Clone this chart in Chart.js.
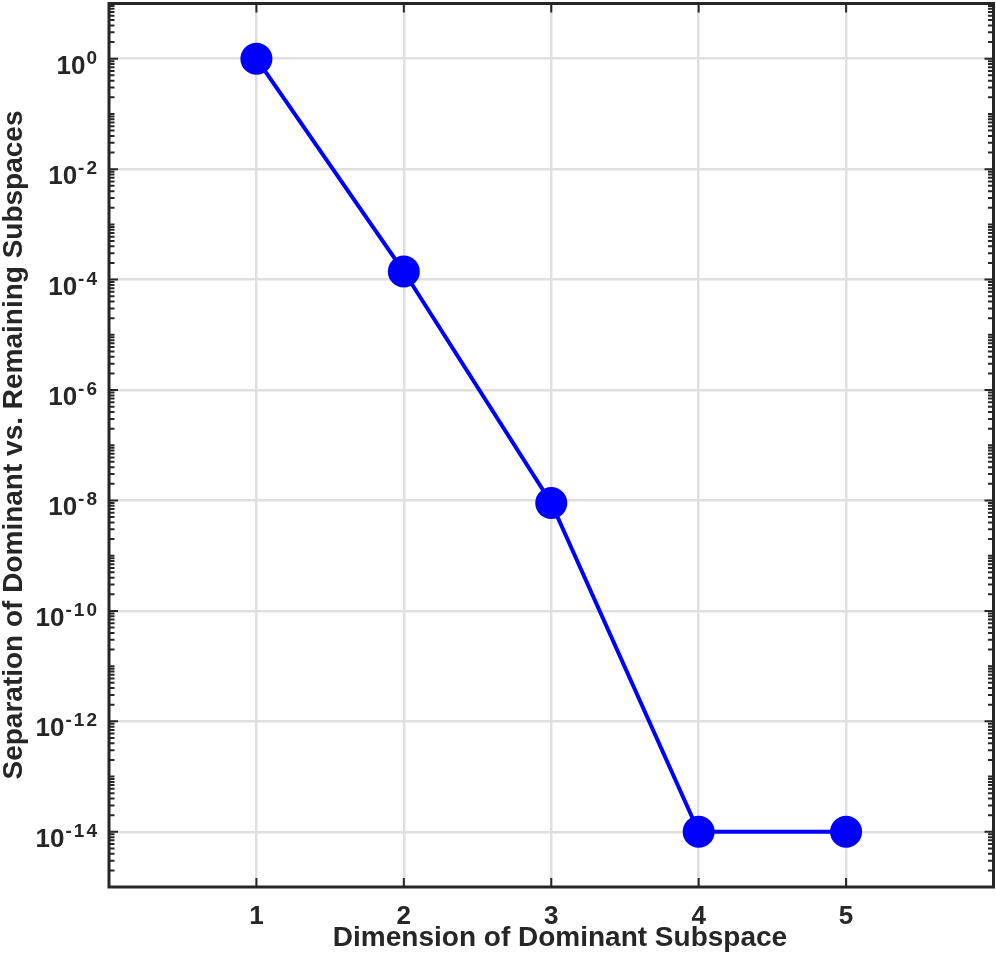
<!DOCTYPE html>
<html lang="en">
<head>
    <meta charset="UTF-8">
    <title>Separation of Dominant vs. Remaining Subspaces</title>
    <script src="https://cdn.jsdelivr.net/npm/chart.js"></script>
    <style>
        html, body {
            margin: 0;
            padding: 0;
            background: #ffffff;
        }
        #sepChart {
            display: block;
        }
    </style>
</head>
<body>
    <canvas id="sepChart" width="996" height="967"></canvas>

    <script>
        // data
        const dims = [1, 2, 3, 4, 5];
        const separation = [1, 1.4e-4, 9e-9, 1e-14, 1e-14];
        const xTicks = [1, 2, 3, 4, 5];
        const yTickExps = [-14, -12, -10, -8, -6, -4, -2, 0];
        const xTitle = 'Dimension of Dominant Subspace';
        const yTitle = 'Separation of Dominant vs. Remaining Subspaces';

        const axisColor = '#262626';
        const fontFamily = '"Liberation Sans", Arial, Helvetica, sans-serif';

        // MATLAB-ish box, inward ticks and labels with superscripts
        const matlabAxes = {
            id: 'matlabAxes',
            afterDraw(chart) {
                const ctx = chart.ctx;
                const ca = chart.chartArea;
                const xs = chart.scales.x;
                const ys = chart.scales.y;

                ctx.save();
                ctx.strokeStyle = axisColor;
                ctx.fillStyle = axisColor;

                // ticks
                ctx.lineWidth = 2;
                ctx.beginPath();
                xTicks.forEach(v => {
                    const px = xs.getPixelForValue(v);
                    ctx.moveTo(px, ca.bottom);
                    ctx.lineTo(px, ca.bottom - 9);
                    ctx.moveTo(px, ca.top);
                    ctx.lineTo(px, ca.top + 9);
                });
                for (let e = -15; e <= 1; e++) {
                    for (let m = 1; m <= 9; m++) {
                        const v = m * Math.pow(10, e);
                        if (v < ys.min * 0.999 || v > ys.max * 1.001) continue;
                        const py = ys.getPixelForValue(v);
                        const len = (m === 1 && yTickExps.includes(e)) ? 9 : 5.5;
                        ctx.moveTo(ca.left, py);
                        ctx.lineTo(ca.left + len, py);
                        ctx.moveTo(ca.right, py);
                        ctx.lineTo(ca.right - len, py);
                    }
                }
                ctx.stroke();

                // box
                ctx.lineWidth = 3;
                ctx.strokeRect(ca.left, ca.top, ca.right - ca.left, ca.bottom - ca.top);

                // x tick labels
                ctx.font = 'bold 26px ' + fontFamily;
                ctx.textAlign = 'center';
                ctx.textBaseline = 'alphabetic';
                xTicks.forEach(v => {
                    ctx.fillText(String(v), xs.getPixelForValue(v), 924);
                });

                // y tick labels: 10 with exponent
                ctx.textAlign = 'left';
                yTickExps.forEach(e => {
                    const py = ys.getPixelForValue(Math.pow(10, e));
                    const expText = String(e);
                    ctx.font = 'bold 19px ' + fontFamily;
                    ctx.letterSpacing = '2px';
                    const wExp = ctx.measureText(expText).width;
                    ctx.font = 'bold 26px ' + fontFamily;
                    ctx.letterSpacing = '0px';
                    const wTen = ctx.measureText('10').width;
                    const x0 = 98 - wExp - wTen;
                    ctx.fillText('10', x0, py + 15);
                    ctx.font = 'bold 19px ' + fontFamily;
                    ctx.letterSpacing = '2px';
                    ctx.fillText(expText, x0 + wTen + 1, py + 5);
                });

                // axis titles
                ctx.font = 'bold 28px ' + fontFamily;
                ctx.letterSpacing = '0px';
                ctx.textAlign = 'center';
                ctx.fillText(xTitle, 560, 946);

                ctx.translate(22, 445);
                ctx.rotate(-Math.PI / 2);
                ctx.fillText(yTitle, 0, 0);

                ctx.restore();
            }
        };

        const ctx = document.getElementById('sepChart').getContext('2d');

        const chart = new Chart(ctx, {
            type: 'line',
            data: {
                datasets: [{
                    data: dims.map((d, i) => ({ x: d, y: separation[i] })),
                    borderColor: '#0000ff',
                    backgroundColor: '#0000ff',
                    borderWidth: 4,
                    pointRadius: 16,
                    pointBorderWidth: 0,
                    pointBackgroundColor: '#0000ff',
                    tension: 0,
                    fill: false
                }]
            },
            options: {
                responsive: false,
                devicePixelRatio: 1,
                animation: false,
                layout: {
                    autoPadding: false,
                    padding: { left: 109, right: 2.5, top: 3.5, bottom: 80 }
                },
                plugins: {
                    legend: { display: false },
                    tooltip: { enabled: false }
                },
                scales: {
                    x: {
                        type: 'linear',
                        min: 0,
                        max: 6,
                        afterBuildTicks: s => { s.ticks = xTicks.map(v => ({ value: v })); },
                        afterFit: s => { s.height = 0; },
                        ticks: { display: false },
                        grid: { color: '#dfdfdf', lineWidth: 2.5, drawTicks: false },
                        border: { display: false }
                    },
                    y: {
                        type: 'logarithmic',
                        min: 1e-15,
                        max: 10,
                        afterBuildTicks: s => { s.ticks = yTickExps.map(e => ({ value: Math.pow(10, e) })); },
                        afterFit: s => { s.width = 0; },
                        ticks: { display: false },
                        grid: { color: '#dfdfdf', lineWidth: 2.5, drawTicks: false },
                        border: { display: false }
                    }
                }
            },
            plugins: [matlabAxes]
        });
    </script>
</body>
</html>
